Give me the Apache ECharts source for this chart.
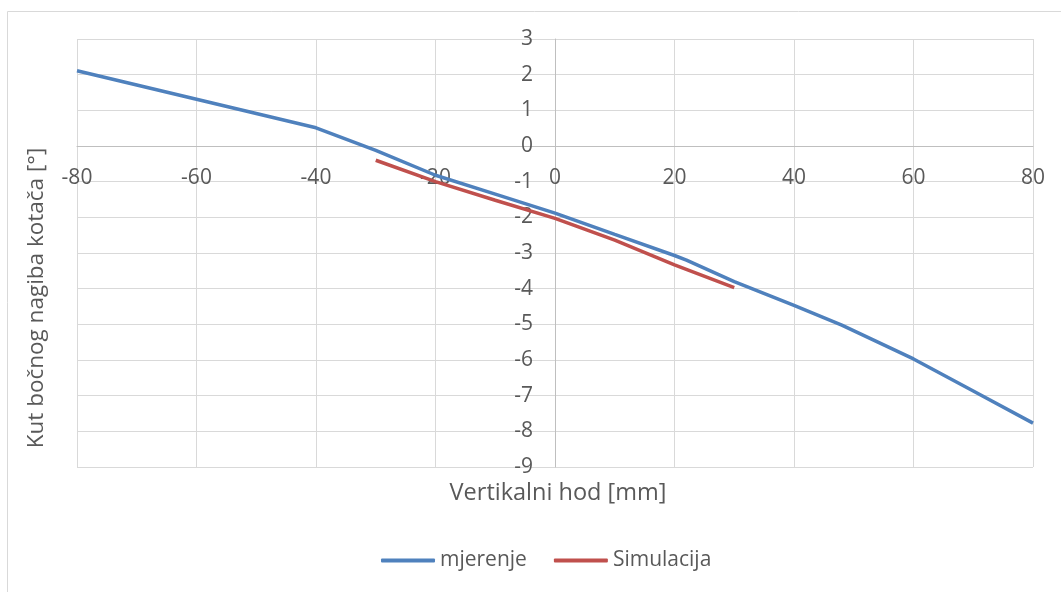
<!DOCTYPE html>
<html>
<head>
<meta charset="utf-8">
<script src="https://cdn.jsdelivr.net/npm/echarts@6/dist/echarts.min.js"></script>
<style>
  html, body { margin: 0; padding: 0; background: #fff; }
  #chart { width: 1061px; height: 592px; }
</style>
</head>
<body>
<div id="chart"></div>
<script>
  // mjerenje (measured)
  var mjerenjeX = [-80, -70, -60, -50, -40, -30, -20, -10, 0, 10, 20, 22, 30, 40, 48, 60, 70, 80]
  var mjerenjeY = [2.11, 1.71, 1.31, 0.91, 0.51, -0.12, -0.82, -1.35, -1.88, -2.48, -3.07, -3.2, -3.8, -4.47, -5.02, -5.97, -6.87, -7.77]
  // Simulacija
  var simX = [-30, -20, -10, 0, 10, 20, 30]
  var simY = [-0.4, -1.0, -1.52, -2.03, -2.64, -3.33, -3.97]

  var font = 'Open Sans'
  var textColor = '#595959'

  function pairs(xs, ys) {
    var out = []
    for (var i = 0; i < xs.length; i++) out.push([xs[i], ys[i]])
    return out
  }

  // grid: x -80..80 over 956px, y -9..3 over 428px
  var gridLeft = 77, gridTop = 39, gridW = 956, gridH = 428
  var zeroX = gridLeft + gridW / 2
  var zeroY = gridTop + gridH * 3 / 12

  var chart = echarts.init(document.getElementById('chart'))
  chart.setOption({
    animation: false,
    textStyle: { fontFamily: font },
    grid: { left: gridLeft, top: gridTop, width: gridW, height: gridH, containLabel: false },
    graphic: [
      {
        type: 'rect',
        shape: { x: 7.5, y: 11.5, width: 1200, height: 700 },
        style: { fill: 'none', stroke: '#d9d9d9', lineWidth: 1 },
        silent: true
      },
      {
        type: 'text',
        x: 37, y: 298,
        rotation: Math.PI / 2,
        style: {
          text: 'Kut bočnog nagiba kotača [°]',
          font: '22.5px "Open Sans"',
          fill: textColor,
          align: 'center',
          verticalAlign: 'middle'
        }
      },
      {
        type: 'text',
        x: 558, y: 493,
        style: {
          text: 'Vertikalni hod [mm]',
          font: '23.5px "Open Sans"',
          fill: textColor,
          align: 'center',
          verticalAlign: 'middle'
        }
      }
    ],
    legend: {
      bottom: 16,
      left: 376,
      itemWidth: 54,
      itemHeight: 4,
      itemGap: 27,
      icon: 'roundRect',
      textStyle: { fontFamily: font, fontSize: 21, color: textColor },
      data: ['mjerenje', 'Simulacija']
    },
    xAxis: {
      type: 'value',
      min: -80,
      max: 80,
      interval: 20,
      offset: -(gridTop + gridH - zeroY),
      axisLine: { onZero: false, lineStyle: { color: '#bfbfbf', width: 1 } },
      axisTick: { show: false },
      axisLabel: { color: textColor, fontSize: 21, fontFamily: font, margin: 22 },
      splitLine: { show: true, lineStyle: { color: '#d9d9d9', width: 1 } }
    },
    yAxis: {
      type: 'value',
      min: -9,
      max: 3,
      interval: 1,
      offset: -(zeroX - gridLeft),
      axisLine: { show: true, onZero: false, lineStyle: { color: '#bfbfbf', width: 1 } },
      axisTick: { show: false },
      axisLabel: { color: textColor, fontSize: 21, fontFamily: font, margin: 22 },
      splitLine: { show: true, lineStyle: { color: '#d9d9d9', width: 1 } }
    },
    series: [
      {
        name: 'mjerenje',
        type: 'line',
        data: pairs(mjerenjeX, mjerenjeY),
        showSymbol: false,
        symbol: 'none',
        color: '#4f81bd',
        lineStyle: { color: '#4f81bd', width: 3.5 },
        z: 3
      },
      {
        name: 'Simulacija',
        type: 'line',
        data: pairs(simX, simY),
        showSymbol: false,
        symbol: 'none',
        color: '#c0504d',
        lineStyle: { color: '#c0504d', width: 3.5 },
        z: 2
      }
    ]
  })
</script>
</body>
</html>
